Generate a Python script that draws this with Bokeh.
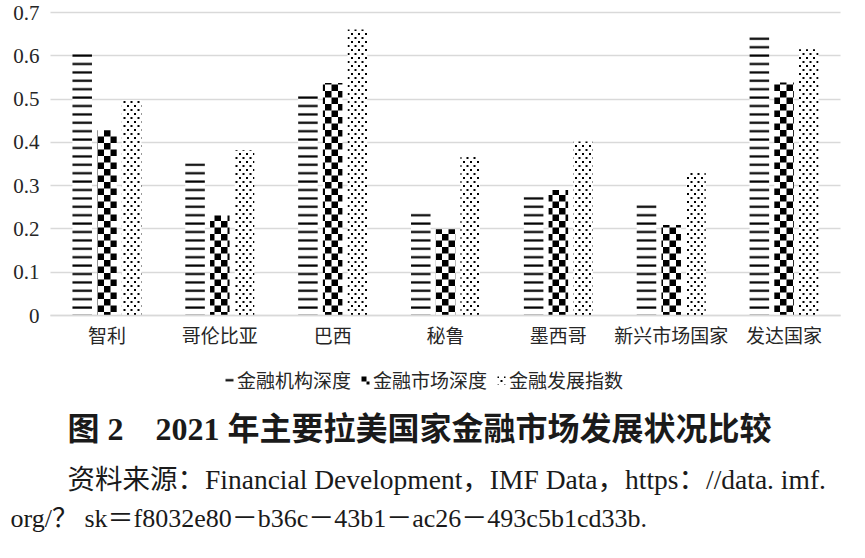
from bokeh.plotting import figure
from bokeh.models import (Range1d, FixedTicker, Legend, LegendItem, Label,
                          ColumnDataSource, CanvasTexture)
from bokeh.embed import file_html
from bokeh.resources import INLINE

# ---------------- data ----------------
categories = ["智利", "哥伦比亚", "巴西", "秘鲁", "墨西哥", "新兴市场国家", "发达国家"]
inst_depth = [0.605, 0.352, 0.507, 0.236, 0.276, 0.255, 0.646]
market_depth = [0.428, 0.231, 0.537, 0.199, 0.290, 0.209, 0.538]
dev_index = [0.498, 0.382, 0.661, 0.371, 0.402, 0.334, 0.615]
series_names = ["金融机构深度", "金融市场深度", "金融发展指数"]
y_ticks = [0, 0.1, 0.2, 0.3, 0.4, 0.5, 0.6, 0.7]
y_tick_labels = ["0", "0.1", "0.2", "0.3", "0.4", "0.5", "0.6", "0.7"]
title_text = "图 2\u30002021 年主要拉美国家金融市场发展状况比较"
source_line1 = "资料来源：Financial  Development，IMF  Data，https：//data. imf."
source_line2 = "org/？ sk＝f8032e80－b36c－43b1－ac26－493c5b1cd33b."

# ---------------- geometry (page pixels) ----------------
W, H = 849, 542
PX_X = 790 / len(categories)      # px per category
PX_Y = 303 / 0.7                  # px per unit value
LEFT0, ZERO_Y = 58, 323           # page position of x=0 and y=0

def x_of(page_x):
    return (page_x - LEFT0) / PX_X

def y_of(page_y):
    return -(page_y - ZERO_Y) / PX_Y

centers = [i + 0.5 for i in range(len(categories))]
off = 0.219
bw = 0.173

src = ColumnDataSource(dict(
    x_inst=[c - off for c in centers],
    x_mkt=centers,
    x_idx=[c + off for c in centers],
    inst=inst_depth, mkt=market_depth, idx=dev_index,
    pat_m=["checker"] * len(categories),
    pat_i=["dots"] * len(categories),
))

checker = CanvasTexture(repetition="repeat", code="""
const c = ctx.canvas;
c.width = 13; c.height = 13;
const g = c.getContext("2d");
g.clearRect(0, 0, 13, 13);
g.fillStyle = "#000000";
g.fillRect(0, 0, 6.5, 6.5);
g.fillRect(6.5, 6.5, 6.5, 6.5);
""")
dots = CanvasTexture(repetition="repeat", code="""
const c = ctx.canvas;
c.width = 7; c.height = 8;
const g = c.getContext("2d");
g.clearRect(0, 0, 7, 8);
g.fillStyle = "#000000";
g.fillRect(1, 1, 2, 2);
g.fillRect(4.5, 5, 2, 2);
""")

p = figure(width=W, height=H, output_backend="svg", toolbar_location=None,
           x_range=Range1d(x_of(8), x_of(8 + W)),
           y_range=Range1d(y_of(8 + H), y_of(8)),
           min_border_left=0, min_border_right=0, min_border_top=0,
           min_border_bottom=0, background_fill_color="white",
           border_fill_color="white")
p.outline_line_color = None

r1 = p.vbar(x="x_inst", top="inst", width=bw, source=src, fill_color="white",
            line_color=None, hatch_pattern="-", hatch_color="black",
            hatch_scale=8.4, hatch_weight=2.2)
r2 = p.vbar(x="x_mkt", top="mkt", width=bw, source=src, fill_color="white",
            line_color=None, hatch_pattern="pat_m", hatch_color="black",
            hatch_scale=13, hatch_weight=13, hatch_extra={"checker": checker})
r3 = p.vbar(x="x_idx", top="idx", width=bw, source=src, fill_color="white",
            line_color=None, hatch_pattern="pat_i", hatch_color="black",
            hatch_scale=7, hatch_weight=7, hatch_extra={"dots": dots})

# axes drawn inside the frame at fixed locations
p.xaxis.fixed_location = 0
p.yaxis.fixed_location = 0
p.xaxis.bounds = (0, len(categories))
p.xaxis.ticker = FixedTicker(ticks=centers)
p.xaxis.major_label_overrides = {c: lab for c, lab in zip(centers, categories)}
p.yaxis.ticker = FixedTicker(ticks=y_ticks)
p.yaxis.major_label_overrides = {t: lab for t, lab in zip(y_ticks, y_tick_labels)}
for ax in (p.xaxis, p.yaxis):
    ax.major_tick_line_color = None
    ax.minor_tick_line_color = None
    ax.major_label_text_color = "#262626"
    ax.major_label_text_font = "Liberation Serif, Noto Sans CJK SC"
p.yaxis.axis_line_color = None
p.xaxis.axis_line_color = "#d9d9d9"
p.xaxis.axis_line_width = 1.5
p.yaxis.major_label_text_font_size = "21px"
p.xaxis.major_label_text_font_size = "19px"
p.yaxis.major_label_standoff = 5
p.xaxis.major_label_standoff = 4
p.xgrid.grid_line_color = None
p.ygrid.grid_line_color = "#d9d9d9"
p.ygrid.grid_line_width = 1.5
try:
    p.ygrid.cross_bounds = (0, len(categories))
except Exception:
    pass

legend = Legend(items=[LegendItem(label=series_names[0], renderers=[r1]),
                       LegendItem(label=series_names[1], renderers=[r2]),
                       LegendItem(label=series_names[2], renderers=[r3])],
                orientation="horizontal", location=(224, 149),
                border_line_color=None, background_fill_alpha=0,
                label_text_font="Noto Sans CJK SC", label_text_font_size="19px",
                label_text_color="#262626", glyph_width=10, glyph_height=10,
                label_standoff=3, spacing=9, padding=0, margin=0)
p.add_layout(legend, "center")

font = "Liberation Serif, Noto Sans CJK SC"
p.add_layout(Label(x=x_of(75), y=y_of(436), text=title_text, text_font=font,
                   text_font_style="bold", text_font_size="32px",
                   text_color="#1a1a1a", text_baseline="middle", text_align="left"))
p.add_layout(Label(x=x_of(75), y=y_of(487), text=source_line1, text_font=font,
                   text_font_size="27.5px", text_color="#1a1a1a",
                   text_baseline="middle", text_align="left"))
p.add_layout(Label(x=x_of(18), y=y_of(526), text=source_line2, text_font=font,
                   text_font_size="26px", text_color="#1a1a1a",
                   text_baseline="middle", text_align="left"))

open("out.html", "w").write(file_html(p, INLINE))
